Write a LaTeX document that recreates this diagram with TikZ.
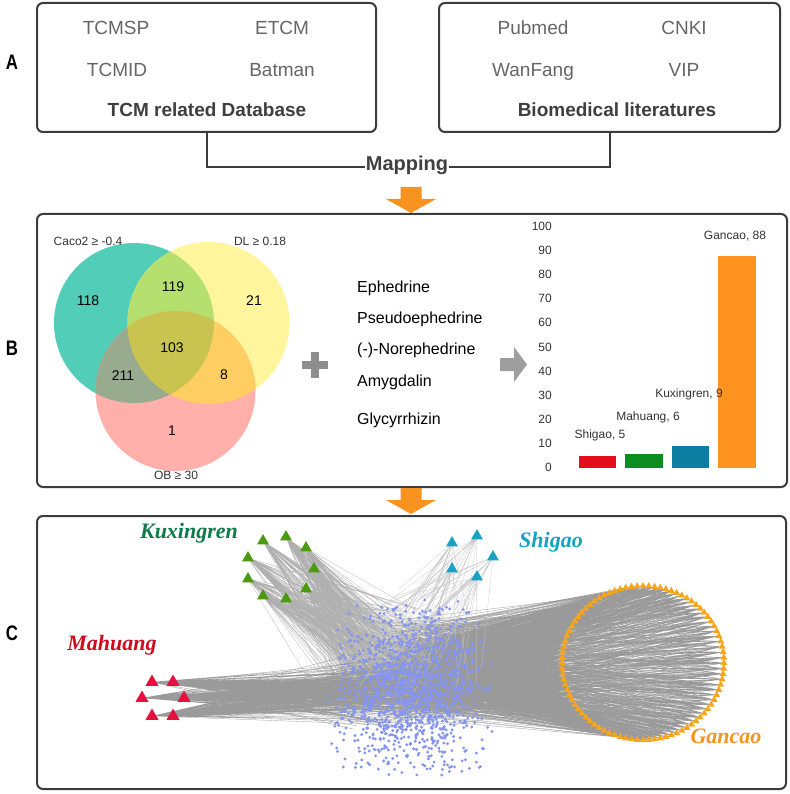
\documentclass[tikz,border=0pt]{standalone}
\usepackage{fontspec}
\setmainfont{Liberation Sans}
\newfontfamily\herbfont{Liberation Serif}
\newcommand\fsz[1]{\fontsize{#1}{#1}\selectfont}
\definecolor{frame}{HTML}{3C3C3C}
\definecolor{dbtext}{HTML}{666666}
\definecolor{dbtitle}{HTML}{3F3F3F}
\definecolor{maparrow}{HTML}{F7931E}
\definecolor{vteal}{HTML}{52CDB8}
\definecolor{vyel}{HTML}{FFF59D}
\definecolor{vpink}{HTML}{FFB0AA}
\definecolor{vty}{HTML}{B5DF6E}
\definecolor{vtp}{HTML}{98AB8E}
\definecolor{vyp}{HTML}{FFCE62}
\definecolor{vtyp}{HTML}{C9C44F}
\definecolor{plusgray}{HTML}{8E8E8E}
\definecolor{arrgray}{HTML}{9E9E9E}
\definecolor{barred}{HTML}{E3101B}
\definecolor{bargreen}{HTML}{0A8E20}
\definecolor{barblue}{HTML}{0E7DA2}
\definecolor{barorange}{HTML}{FF9320}
\definecolor{kuxgreen}{HTML}{4C9A10}
\definecolor{kuxlabel}{HTML}{0C7A4A}
\definecolor{mahred}{HTML}{E5103E}
\definecolor{mahlabel}{HTML}{CF0A1F}
\definecolor{shicyan}{HTML}{17A2C6}
\definecolor{shilabel}{HTML}{16A3C3}
\definecolor{ganorange}{HTML}{F8A51E}
\definecolor{ganlabel}{HTML}{F7941D}
\definecolor{dotblue}{HTML}{8595F0}
\definecolor{edgegray}{HTML}{9A9A9A}
\definecolor{lightedge}{HTML}{B0B0B0}
\definecolor{axistext}{HTML}{333333}
\newcommand\tri[3]{\fill[#3] (#1) ++(0,{-#2*0.577}) -- ++({#2*0.5},{#2*0.866}) -- ++({-#2},0) -- cycle;}
\newcommand\orangearrow[2]{\fill[maparrow] ({#1-10.5},{#2}) -- ({#1+10.5},{#2}) -- ({#1+10.5},{#2+12}) -- ({#1+25},{#2+12}) -- ({#1},{#2+26}) -- ({#1-25},{#2+12}) -- ({#1-10.5},{#2+12}) -- cycle;}
\tikzset{
  panelbox/.style={draw=frame, line width=2pt, rounded corners=6pt, inner sep=0pt},
  txt/.style={inner sep=0pt, text height=0.716em, text depth=0pt},
  dbtxt/.style={txt, text=dbtext, font=\fsz{19}},
  dbhead/.style={txt, text=dbtitle, font=\fsz{19}\bfseries},
  vlab/.style={txt, text=axistext, font=\fsz{12}},
  vnum/.style={txt, text=black, font=\fsz{14}},
  cmpd/.style={txt, anchor=west, text=black, font=\fsz{16}},
  axlab/.style={txt, anchor=east, text=axistext, font=\fsz{12}},
  barlab/.style={txt, text=axistext, font=\fsz{12}},
  herb/.style={txt, font=\herbfont\fsz{22}\bfseries\itshape},
  panellab/.style={txt, font=\fsz{21}\bfseries},
  edge/.style={draw=edgegray, line width=0.3pt},
  faintedge/.style={draw=lightedge, line width=0.25pt},
}
\begin{document}
\begin{tikzpicture}[x=1pt,y=-1pt]
\useasboundingbox (0,0) rectangle (789,794);
\fill[white] (0,0) rectangle (789,794);

% ---------------- Panel A
\node[panellab] (labA) at (12,66) {\scalebox{0.8}[1]{A}};
\node[panelbox, minimum width=339pt, minimum height=129pt] (dbbox) at (206.5,67.5) {};
\node[panelbox, minimum width=341pt, minimum height=129pt] (litbox) at (609.5,67.5) {};
\node[dbtxt] (tcmsp) at (116,31) {TCMSP};
\node[dbtxt] (etcm) at (282,31) {ETCM};
\node[dbtxt] (tcmid) at (117,73) {TCMID};
\node[dbtxt] (batman) at (282,73) {Batman};
\node[dbhead] (dbtitle) at (207,113) {TCM related Database};
\node[dbtxt] (pubmed) at (533,31) {Pubmed};
\node[dbtxt] (cnki) at (684,31) {CNKI};
\node[dbtxt] (wanfang) at (533,73) {WanFang};
\node[dbtxt] (vip) at (684,73) {VIP};
\node[dbhead] (littitle) at (617,113) {Biomedical literatures};
\coordinate (mapL) at (206.5,167);
\coordinate (mapR) at (609.5,167);
\draw[draw=frame, line width=2pt] (dbbox.south) -- (mapL) -- (mapR) -- (litbox.south);
\node[txt, fill=white, inner sep=1pt, text=dbtitle, font=\fsz{20}\bfseries] (mapping) at (407,167) {Mapping};
\orangearrow{411}{187}

% ---------------- Panel B
\node[panellab] (labB) at (12,352) {\scalebox{0.8}[1]{B}};
\node[panelbox, minimum width=750pt, minimum height=273pt] (boxB) at (412,350.5) {};
\coordinate (vT) at (134,323);
\coordinate (vY) at (208.5,323);
\coordinate (vP) at (175.5,391);
\fill[vteal] (vT) circle (80pt);
\fill[vyel] (vY) circle (81pt);
\fill[vpink] (vP) circle (80pt);
\begin{scope}\clip (vT) circle (80pt); \fill[vty] (vY) circle (81pt);\end{scope}
\begin{scope}\clip (vT) circle (80pt); \fill[vtp] (vP) circle (80pt);\end{scope}
\begin{scope}\clip (vY) circle (81pt); \fill[vyp] (vP) circle (80pt);\end{scope}
\begin{scope}\clip (vT) circle (80pt); \clip (vY) circle (81pt); \fill[vtyp] (vP) circle (80pt);\end{scope}
\node[vlab] (caco) at (88,242) {Caco2 ≥ -0.4};
\node[vlab] (dl) at (260,242) {DL ≥ 0.18};
\node[vlab] (ob) at (176,476) {OB ≥ 30};
\node[vnum] (n118) at (88,302) {118};
\node[vnum] (n119) at (173,288) {119};
\node[vnum] (n21) at (254,302) {21};
\node[vnum] (n103) at (172,349) {103};
\node[vnum] (n211) at (123,377) {211};
\node[vnum] (n8) at (224,376) {8};
\node[vnum] (n1) at (172,432) {1};
% plus
\fill[plusgray] (302,361) rectangle (328,369);
\fill[plusgray] (311,352) rectangle (319,378);
% compounds
\node[cmpd] (c1) at (357,289) {Ephedrine};
\node[cmpd] (c2) at (357,320) {Pseudoephedrine};
\node[cmpd] (c3) at (357,351) {(-)-Norephedrine};
\node[cmpd] (c4) at (357,383) {Amygdalin};
\node[cmpd] (c5) at (357,421) {Glycyrrhizin};
% gray arrow
\fill[arrgray] (500,358) -- (514,358) -- (514,347) -- (527,364.5) -- (514,382) -- (514,371) -- (500,371) -- cycle;
% bar chart axis
\foreach \v in {0,10,...,100}{
  \node[axlab] at (552,{468-2.41*\v}) {\v};
}
\fill[barred] (579,456) rectangle (616,468);
\fill[bargreen] (625,453.5) rectangle (663,468);
\fill[barblue] (672,446.3) rectangle (709,468);
\fill[barorange] (718,256) rectangle (756,468);
\node[barlab] (bl1) at (600,435) {Shigao, 5};
\node[barlab] (bl2) at (648,417) {Mahuang, 6};
\node[barlab] (bl3) at (689,394) {Kuxingren, 9};
\node[barlab] (bl4) at (735,236) {Gancao, 88};
\orangearrow{411}{488}

% ---------------- Panel C
\node[panellab] (labC) at (12,637) {\scalebox{0.8}[1]{C}};
\node[panelbox, minimum width=749pt, minimum height=273pt] (boxC) at (411.5,652.5) {};
\pgfmathsetseed{4242}
% herb nodes
\coordinate (k1) at (263,541); \coordinate (k2) at (286,537); \coordinate (k3) at (306,548);
\coordinate (k4) at (248,558); \coordinate (k5) at (314,569); \coordinate (k6) at (248,579);
\coordinate (k7) at (306,589); \coordinate (k8) at (263,596); \coordinate (k9) at (286,599);
\coordinate (m1) at (152,682); \coordinate (m2) at (173,682); \coordinate (m3) at (142,698);
\coordinate (m4) at (184,698); \coordinate (m5) at (152,716); \coordinate (m6) at (173,716);
\coordinate (s1) at (452,543); \coordinate (s2) at (477,536); \coordinate (s3) at (493,557);
\coordinate (s4) at (452,569); \coordinate (s5) at (477,577);
\foreach \i in {1,...,88}{
  \coordinate (g\i) at ({643+81*cos(\i*4.0909)},{663+77*sin(\i*4.0909)});
}
% edges
\foreach \i in {1,...,88}{
  \draw[edge] foreach \k in {1,...,16}{ (g\i) -- ({418+28*(rand+rand)},{672+28*(rand+rand)}) };
}
\foreach \i in {1,...,9}{
  \draw[faintedge] foreach \k in {1,...,40}{ (k\i) -- ({385+30*(rand+rand)},{665+32*(rand+rand)}) };
}
\foreach \i in {1,...,6}{
  \draw[edge] foreach \k in {1,...,55}{ (m\i) -- ({395+35*(rand+rand)},{690+20*(rand+rand)}) };
}
\foreach \i in {1,...,5}{
  \draw[faintedge, draw=lightedge!70] foreach \k in {1,...,14}{ (s\i) -- ({415+35*(rand+rand)},{650+35*(rand+rand)}) };
}
% protein dots
\fill[dotblue] foreach \k in {1,...,1400}{ ({410+42*(rand+rand)},{688+46*(rand+rand)}) circle (1.6pt) };
% triangles
\foreach \i in {1,...,9}{\tri{k\i}{12}{kuxgreen}}
\foreach \i in {1,...,6}{\tri{m\i}{13}{mahred}}
\foreach \i in {1,...,5}{\tri{s\i}{12}{shicyan}}
\foreach \i in {1,...,88}{\tri{g\i}{7}{ganorange}}
% herb labels
\node[herb, text=kuxlabel] (lkux) at (189,535) {Kuxingren};
\node[herb, text=mahlabel] (lmah) at (112,647) {Mahuang};
\node[herb, text=shilabel] (lshi) at (551,544) {Shigao};
\node[herb, text=ganlabel] (lgan) at (726,740) {Gancao};
\end{tikzpicture}
\end{document}
